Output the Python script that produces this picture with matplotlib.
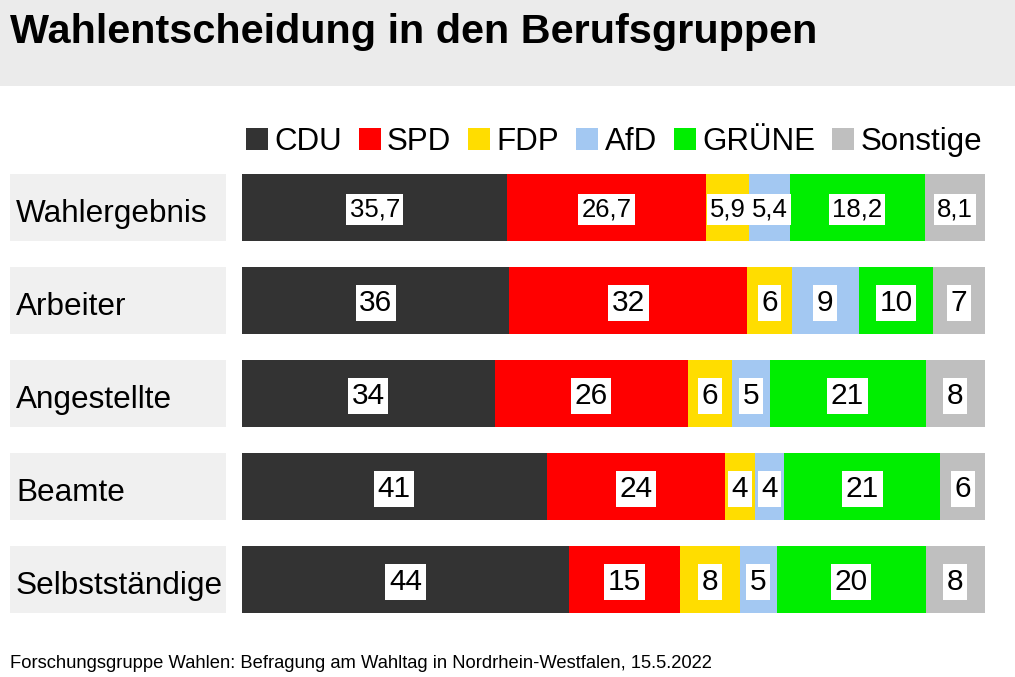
import matplotlib.pyplot as plt
from matplotlib.patches import Rectangle
import matplotlib.transforms as mtransforms

# Daten
gruppen = ["Wahlergebnis", "Arbeiter", "Angestellte", "Beamte", "Selbstständige"]
parteien = ["CDU", "SPD", "FDP", "AfD", "GRÜNE", "Sonstige"]
farben = ["#333333", "#ff0000", "#ffdd00", "#a3c8f2", "#00ee00", "#bfbfbf"]

cdu = [35.7, 36, 34, 41, 44]
spd = [26.7, 32, 26, 24, 15]
fdp = [5.9, 6, 6, 4, 8]
afd = [5.4, 9, 5, 4, 5]
gruene = [18.2, 10, 21, 21, 20]
sonstige = [8.1, 7, 8, 6, 8]
werte = [cdu, spd, fdp, afd, gruene, sonstige]

plt.rcParams['font.family'] = ['Liberation Sans', 'DejaVu Sans']

W, H = 1015, 677
fig = plt.figure(figsize=(W / 100, H / 100), dpi=100)

# grauer Titelbalken
fig.patches.append(Rectangle((0, 1 - 86 / H), 1, 86 / H, transform=fig.transFigure,
                             facecolor="#ebebeb", edgecolor="none", zorder=0))
fig.text(10 / W, 1 - 43 / H, "Wahlentscheidung in den Berufsgruppen",
         fontsize=29.8, fontweight="bold", va="baseline", ha="left")

ax = fig.add_axes([242 / W, 1 - 625.5 / H, 743 / W, 465 / H])
ax.set_xlim(0, 100)
ax.set_ylim(4.5, -0.5)
ax.axis("off")

bh = 67 / 93
links = [0] * len(gruppen)
for name, farbe, vals in zip(parteien, farben, werte):
    ax.barh(range(len(gruppen)), vals, left=links, height=bh, color=farbe,
            label=name, edgecolor="none")
    for i, v in enumerate(vals):
        txt = str(v).replace(".", ",")
        dezimal = "," in txt
        ax.text(links[i] + v / 2, i, txt, ha="center", va="center_baseline",
                fontsize=18.5 if dezimal else 21.5,
                bbox=dict(boxstyle="square,pad=0.12", facecolor="white", edgecolor="none"))
    links = [l + v for l, v in zip(links, vals)]

# Gruppenlabels links mit grauem Hintergrund
trans = mtransforms.blended_transform_factory(fig.transFigure, ax.transData)
for i, g in enumerate(gruppen):
    ax.add_patch(Rectangle((10 / W, i - bh / 2), 216 / W, bh, transform=trans,
                           facecolor="#f0f0f0", edgecolor="none", clip_on=False))
    ax.text(16 / W, i + 0.04, g, transform=trans, ha="left", va="center_baseline",
            fontsize=22.7, clip_on=False)

fig.legend(loc="center right", bbox_to_anchor=(982 / W, 1 - 142 / H), ncol=6,
           frameon=False, fontsize=22.5, handlelength=0.7, handleheight=0.7,
           handletextpad=0.2, columnspacing=0.55, borderaxespad=0, borderpad=0)

fig.text(10 / W, 1 - 668 / H,
         "Forschungsgruppe Wahlen: Befragung am Wahltag in Nordrhein-Westfalen, 15.5.2022",
         fontsize=13.2, va="baseline", ha="left")

fig.savefig("out.png", dpi=100)
